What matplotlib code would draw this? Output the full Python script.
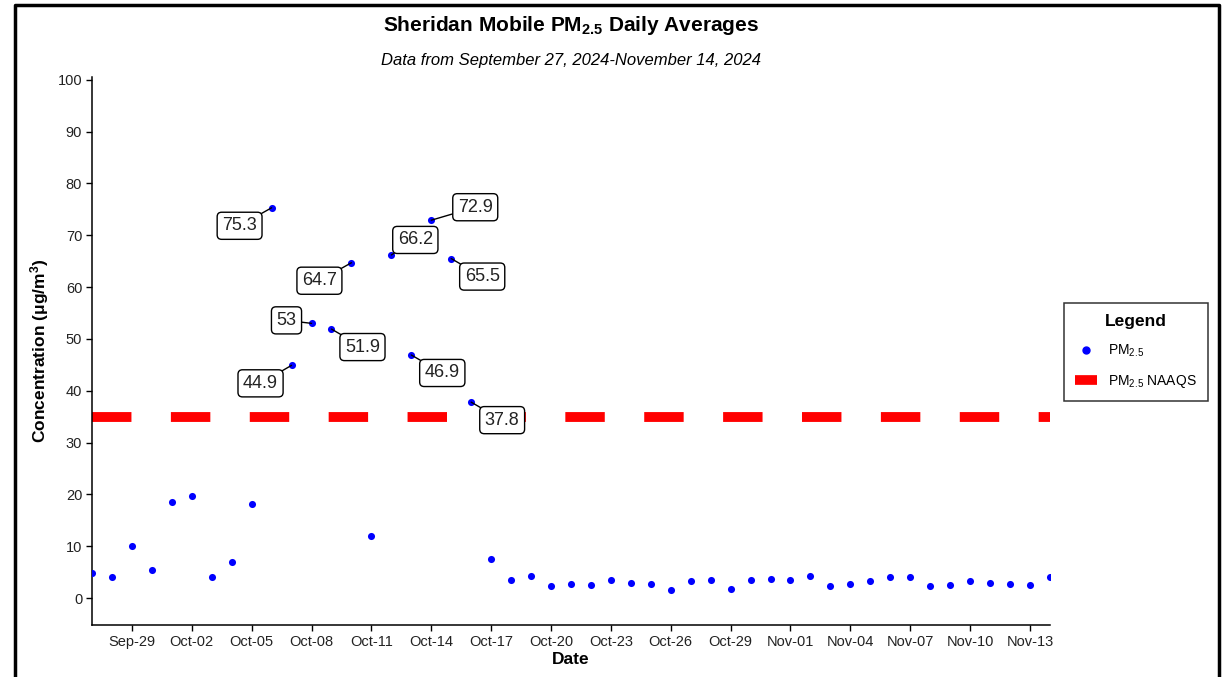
#!/usr/bin/env python3
# -*- coding: utf-8 -*-

import matplotlib
matplotlib.use('Agg')
import matplotlib.pyplot as plt
import matplotlib.dates as mdates
from matplotlib.lines import Line2D
import pandas as pd

plt.rcParams['font.family'] = ['Liberation Sans', 'DejaVu Sans']
plt.rcParams['mathtext.fontset'] = 'custom'
plt.rcParams['mathtext.rm'] = 'Liberation Sans'
plt.rcParams['mathtext.it'] = 'Liberation Sans:italic'
plt.rcParams['mathtext.bf'] = 'Liberation Sans:bold'
plt.rcParams['mathtext.default'] = 'regular'

# daily averages, Sep 27 .. Nov 14 2024
dates = pd.date_range('2024-09-27', '2024-11-14', freq='D')
pm25 = [4.8, 4.0, 10.0, 5.4,
        18.6, 19.6, 4.0, 6.9, 18.1, 75.3, 44.9, 53.0, 51.9, 64.7,
        11.9, 66.2, 46.9, 72.9, 65.5, 37.8, 7.6, 3.5, 4.2, 2.3,
        2.8, 2.5, 3.5, 3.0, 2.8, 1.5, 3.2, 3.5, 1.8, 3.5, 3.7,
        3.5, 4.2, 2.3, 2.8, 3.2, 4.0, 4.0, 2.3, 2.5, 3.2, 3.0,
        2.8, 2.5, 4.0]
naaqs = 35

# where the repelled labels sit relative to their point (pixels)
label_offsets = [(-32, -18), (-31, -18), (-25, 3), (31, -18), (-32, -18),
                 (24, 15), (31, -18), (44, 13), (31, -18), (31, -18)]

fig = plt.figure(figsize=(12.23, 6.77), dpi=100)
ax = fig.add_axes([0.0752, 0.0768, 0.7833, 0.8092])

ax.plot([dates[0], dates[-1]], [naaqs, naaqs], color='red', lw=7.1,
        linestyle=(0, (4, 4)), solid_capstyle='butt', dash_capstyle='butt', zorder=2)
ax.scatter(dates, pm25, s=26, color='blue', zorder=3, linewidths=0)

# label the exceedances
hi = [(d, v) for d, v in zip(dates, pm25) if v > naaqs]
for (d, v), off in zip(hi, label_offsets):
    ax.annotate('{:g}'.format(v), xy=(d, v), xytext=off, textcoords='offset pixels',
                ha='center', va='center', fontsize=13, color='#222222',
                bbox=dict(boxstyle='round,pad=0.28,rounding_size=0.25', fc='white', ec='black', lw=1),
                arrowprops=dict(arrowstyle='-', color='black', lw=1, shrinkA=0, shrinkB=0),
                zorder=4)

ax.set_xlim(dates[0], dates[-1])
ax.set_ylim(-5.2, 100.5)
ax.set_yticks(range(0, 101, 10))
ax.set_xticks(pd.date_range('2024-09-29', '2024-11-13', freq='3D'))
ax.xaxis.set_major_formatter(mdates.DateFormatter('%b-%d'))

for s in ['top', 'right']:
    ax.spines[s].set_visible(False)
for s in ['left', 'bottom']:
    ax.spines[s].set_linewidth(1.1)
ax.tick_params(axis='both', direction='out', length=4, width=1, labelsize=10.5,
               labelcolor='#222222', pad=3)

ax.set_xlabel('Date', fontsize=12.5, fontweight='bold', labelpad=2)
ax.set_ylabel('Concentration (\u03bcg/m$^3$)', fontsize=12.5, fontweight='bold', labelpad=5)

fig.text(0.467, 0.963, 'Sheridan Mobile PM$_{2.5}$ Daily Averages', ha='center', va='center',
         fontsize=15, fontweight='bold')
fig.text(0.467, 0.910, 'Data from September 27, 2024-November 14, 2024', ha='center', va='center',
         fontsize=12, style='italic')

handles = [Line2D([], [], marker='o', color='blue', linestyle='none', markersize=5),
           Line2D([], [], color='red', lw=7, solid_capstyle='butt')]
leg = fig.legend(handles, ['PM$_{2.5}$', 'PM$_{2.5}$ NAAQS'], title='Legend',
                 loc='center left', bbox_to_anchor=(1064 / 1223, 1 - 352 / 677),
                 fontsize=10, title_fontsize=12.5, frameon=True, fancybox=False,
                 handlelength=1.6, borderpad=0.8, labelspacing=1.0, handletextpad=0.8,
                 borderaxespad=0)
leg.get_frame().set_edgecolor('black')
leg.get_frame().set_linewidth(1.1)
leg.get_title().set_fontweight('bold')

# outer frame round the figure (no bottom edge visible)
fig.add_artist(Line2D([15 / 1223, 15 / 1223, 1219 / 1223, 1219 / 1223],
                      [-0.1, 1 - 5 / 677, 1 - 5 / 677, -0.1],
                      transform=fig.transFigure, color='black', lw=2.5))

plt.savefig('out.png', dpi=100)
